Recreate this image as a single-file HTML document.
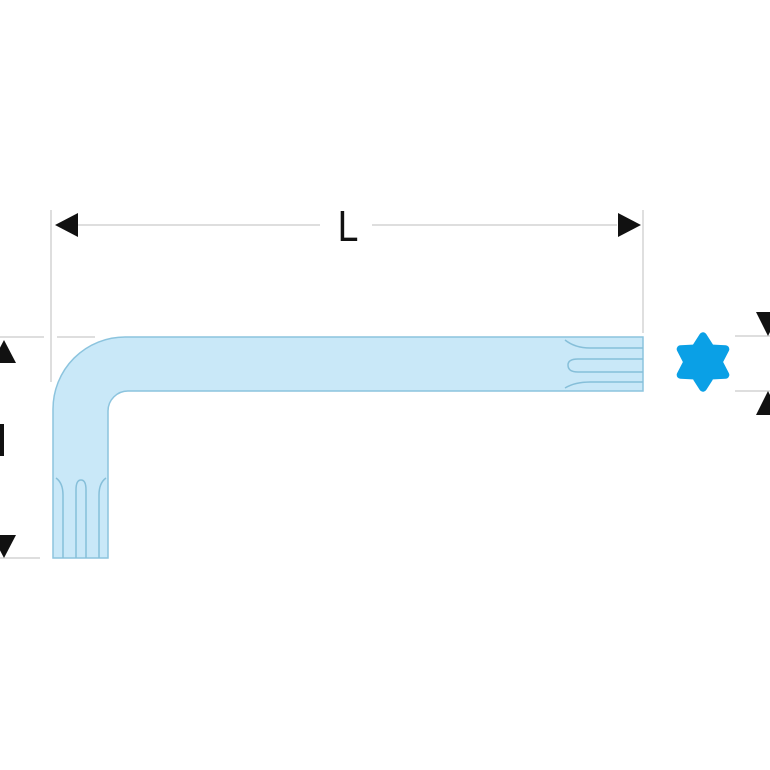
<!DOCTYPE html>
<html><head><style>html,body{margin:0;padding:0;background:#fff;width:770px;height:770px;overflow:hidden}</style></head>
<body>
<svg width="770" height="770" viewBox="0 0 770 770" xmlns="http://www.w3.org/2000/svg">
<g stroke="#d4d4d4" stroke-width="1.5" fill="none">
<line x1="51" y1="210" x2="51" y2="382"/>
<line x1="643" y1="210" x2="643" y2="333"/>
<line x1="78" y1="225" x2="320" y2="225"/>
<line x1="372" y1="225" x2="617" y2="225"/>
<line x1="0" y1="337" x2="44" y2="337"/>
<line x1="57" y1="337" x2="95" y2="337"/>
<line x1="0" y1="558" x2="40" y2="558"/>
<line x1="735" y1="336" x2="770" y2="336"/>
<line x1="735" y1="391" x2="770" y2="391"/>
</g>
<g fill="#111">
<polygon points="55,225 78,213 78,237"/>
<polygon points="641,225 618,213 618,237"/>
<polygon points="4,340 -8,363 16,363"/>
<polygon points="4,558 -8,535 16,535"/>
<polygon points="768,336 756,312 780,312"/>
<polygon points="768,391 756,415 780,415"/>
<rect x="0" y="424" width="4" height="32"/>
</g>
<text x="348" y="241" font-family="Liberation Sans, sans-serif" font-size="44" text-anchor="middle" fill="#111" transform="translate(348 0) scale(0.85 1) translate(-348 0)">L</text>
<path d="M643 337 H125 A72 72 0 0 0 53 409 V558 H108 V411 A20 20 0 0 1 128 391 H643 Z" fill="#c9e8f8" stroke="#8cc4de" stroke-width="1.5"/>
<g stroke="#86bfd9" stroke-width="1.5" fill="none">
<path d="M565 340 Q575 348 590 348 H643"/>
<path d="M643 359 H578 Q568 359 568 365 Q568 372 578 372 H643"/>
<path d="M565 388 Q575 382 590 382 H643"/>
<path d="M56 478 Q63 483 63 495 V558"/>
<path d="M76 558 V490 Q76 480 81 480 Q86 480 86 490 V558"/>
<path d="M106 478 Q99 483 99 495 V558"/>
</g>
<g transform="translate(703 362) scale(1.12)">
<polygon points="0,-23 7,-12.1 20,-11.5 14,0 20,11.5 7,12.1 0,23 -7,12.1 -20,11.5 -14,0 -20,-11.5 -7,-12.1" fill="#0aa0e6" stroke="#0aa0e6" stroke-width="7" stroke-linejoin="round"/>
</g>
</svg>
</body></html>
